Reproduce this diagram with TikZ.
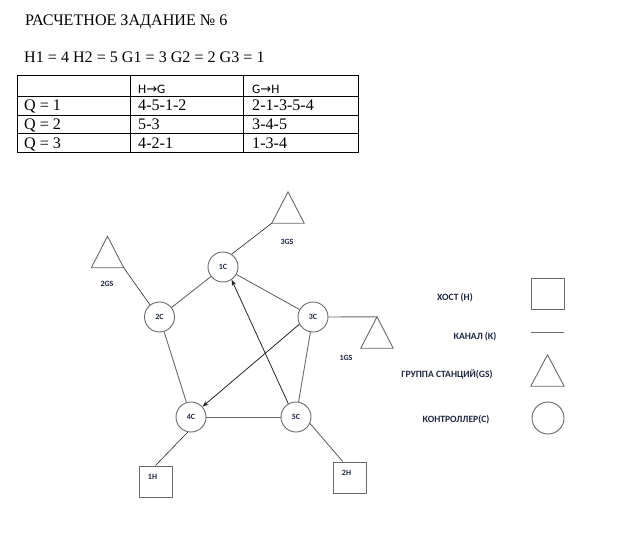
\documentclass[tikz,border=0pt]{standalone}
\usepackage{fontspec}
\setmainfont{Liberation Serif}
\newfontfamily\calib{Carlito}
\newfontfamily\djv{DejaVu Sans}
\usetikzlibrary{arrows.meta}
\definecolor{lnc}{RGB}{105,105,105}
\definecolor{txc}{RGB}{30,38,64}
\begin{document}
\begin{tikzpicture}[x=1pt,y=-1pt,
  ser/.style={anchor=base west,inner sep=0,font=\fontsize{16.1}{18}\selectfont},
  hdr/.style={anchor=base west,inner sep=0,font=\calib\fontsize{13}{15}\selectfont},
  tab/.style={line width=0.8pt},
  ctrl/.style={circle,draw=lnc,line width=0.9pt,minimum size=30pt,inner sep=0,text=txc,font=\calib\bfseries\fontsize{8}{9}\selectfont},
  tribox/.style={rectangle,minimum width=32pt,minimum height=31pt,inner sep=0},
  triline/.style={draw=lnc,line width=0.9pt,line join=miter},
  host/.style={rectangle,draw=lnc,line width=1pt,minimum width=33pt,minimum height=31pt,inner sep=0},
  lbl/.style={inner sep=0,text=txc,font=\calib\bfseries\fontsize{8}{9}\selectfont},
  leg/.style={inner sep=0,text=txc,font=\calib\bfseries\fontsize{9.6}{11}\selectfont},
  chan/.style={draw=lnc,line width=0.9pt},
  thin/.style={draw=black!85,line width=0.6pt},
  arr/.style={draw=black!85,line width=0.8pt,-{Stealth[length=6pt,width=4.5pt]}}
]
\useasboundingbox[fill=white] (0,0) rectangle (638,546);

% header texts
\node[ser] (title) at (25,26) {РАСЧЕТНОЕ ЗАДАНИЕ № 6};
\node[ser] (params) at (24,62) {H1 = 4 H2 = 5 G1 = 3 G2 = 2 G3 = 1};

% table
\draw[tab] (17,75) rectangle (358,152);
\draw[tab] (17,96) -- (358,96);
\draw[tab] (17,115) -- (358,115);
\draw[tab] (17,133.5) -- (358,133.5);
\draw[tab] (130,75) -- (130,152);
\draw[tab] (243,75) -- (243,152);
\node[hdr] (h1) at (138,93) {H{\djv\fontsize{13}{15}\selectfont→}G};
\node[hdr] (h2) at (252,93) {G{\djv\fontsize{13}{15}\selectfont→}H};
\node[ser] (q1) at (24,110) {Q = 1};
\node[ser] (q2) at (24,129) {Q = 2};
\node[ser] (q3) at (24,148) {Q = 3};
\node[ser] (a1) at (138,110) {4-5-1-2};
\node[ser] (a2) at (138,129) {5-3};
\node[ser] (a3) at (138,148) {4-2-1};
\node[ser] (b1) at (252,110) {2-1-3-5-4};
\node[ser] (b2) at (252,129) {3-4-5};
\node[ser] (b3) at (252,148) {1-3-4};

% controllers
\node[ctrl] (c1) at (223,267) {1C};
\node[ctrl] (c2) at (159.5,317) {2C};
\node[ctrl] (c3) at (313,317) {3C};
\node[ctrl] (c4) at (191,417) {4C};
\node[ctrl] (c5) at (296,417) {5C};

% station groups
\node[tribox] (g3) at (288,207.5) {};
\node[tribox] (g2) at (107.5,252) {};
\node[tribox] (g1) at (377,332.5) {};
\draw[triline] (g3.south west) -- (g3.north) -- (g3.south east) -- cycle;
\draw[triline] (g2.south west) -- (g2.north) -- (g2.south east) -- cycle;
\draw[triline] (g1.south west) -- (g1.north) -- (g1.south east) -- cycle;
\node[lbl] (g3l) at (287,242) {3GS};
\node[lbl] (g2l) at (107,284) {2GS};
\node[lbl] (g1l) at (346,358) {1GS};

% hosts
\node[host,label={[lbl,xshift=-3pt,yshift=4.5pt]center:1H}] (h1b) at (155.5,481.5) {};
\node[host,label={[lbl,xshift=-3pt,yshift=4.5pt]center:2H}] (h2b) at (349.5,477.5) {};

% channels
\draw[chan] (c1) -- (c2);
\draw[chan] (c1) -- (c3);
\draw[chan] (c2) -- (c4);
\draw[chan] (c3) -- (c5);
\draw[chan] (c4) -- (c5);
\draw[chan] (c3.east) -- (g1.north);
\draw[chan] (c5.-25) -- (h2b.113);
\draw[thin] (c1.56) -- (g3.south west);
\draw[thin] (g2.south east) -- (c2.128);
\draw[thin] (c4.-102) -- (h1b.north);
\draw[arr] (c5.120) -- (c1.-56);
\draw[arr] (c3.208) -- (c4.42);

% legend
\node[host] (lh) at (547.5,293.5) {};
\coordinate (lk1) at (531,332);
\coordinate (lk2) at (564,332);
\draw[chan] (lk1) -- (lk2);
\node[tribox,minimum width=33pt] (lg) at (547.5,370.5) {};
\draw[triline] (lg.south west) -- (lg.north) -- (lg.south east) -- cycle;
\node[ctrl,minimum size=32pt] (lc) at (548,418) {};
\node[leg] (lht) at (455,298) {ХОСТ (Н)};
\node[leg] (lkt) at (475,337) {КАНАЛ (К)};
\node[leg] (lgt) at (447,374) {ГРУППА СТАНЦИЙ(GS)};
\node[leg] (lct) at (456,420) {КОНТРОЛЛЕР(С)};
\end{tikzpicture}
\end{document}
